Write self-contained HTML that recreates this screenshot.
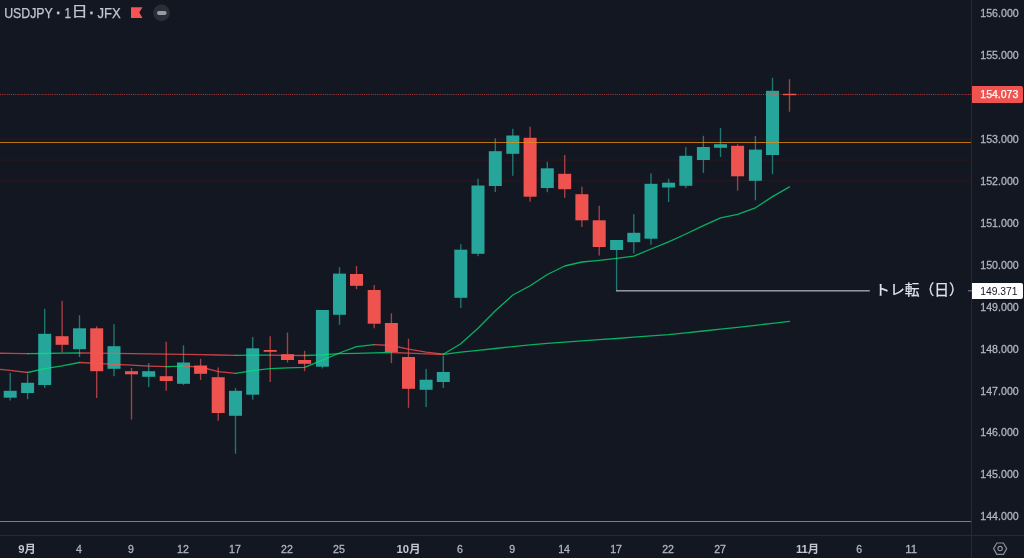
<!DOCTYPE html>
<html lang="ja">
<head>
<meta charset="utf-8">
<title>USDJPY 1日 JFX</title>
<style>
html,body{margin:0;padding:0;background:#131722;width:1024px;height:558px;overflow:hidden}
body{position:relative;font-family:"Liberation Sans","Noto Sans CJK JP",sans-serif}
</style>
</head>
<body>
<svg width="1024" height="558" viewBox="0 0 1024 558" style="display:block;position:absolute;left:0;top:0">
<rect x="0" y="0" width="1024" height="558" fill="#131722"/>
<rect x="0" y="138.5" width="971" height="1.7" fill="#24161f"/>
<rect x="0" y="159.2" width="971" height="1.7" fill="#24161f"/>
<rect x="0" y="180.0" width="971" height="1.7" fill="#24161f"/>
<g>
<rect x="9.52" y="372.8" width="1.36" height="27.7" fill="#26a69a" opacity="0.68"/>
<rect x="3.70" y="390.8" width="13" height="6.9" fill="#26a69a"/>
<rect x="26.92" y="374.2" width="1.36" height="25.0" fill="#26a69a" opacity="0.68"/>
<rect x="21.10" y="382.8" width="13" height="10.2" fill="#26a69a"/>
<rect x="44.02" y="308.8" width="1.36" height="79.2" fill="#26a69a" opacity="0.68"/>
<rect x="38.20" y="333.8" width="13" height="51.2" fill="#26a69a"/>
<rect x="61.42" y="300.8" width="1.36" height="51.7" fill="#ef5350" opacity="0.68"/>
<rect x="55.60" y="336.2" width="13" height="8.6" fill="#ef5350"/>
<rect x="78.82" y="315.3" width="1.36" height="41.7" fill="#26a69a" opacity="0.68"/>
<rect x="73.00" y="328.3" width="13" height="20.9" fill="#26a69a"/>
<rect x="96.02" y="326.3" width="1.36" height="71.7" fill="#ef5350" opacity="0.68"/>
<rect x="90.20" y="328.3" width="13" height="42.9" fill="#ef5350"/>
<rect x="113.32" y="324.2" width="1.36" height="52.0" fill="#26a69a" opacity="0.68"/>
<rect x="107.50" y="346.2" width="13" height="22.6" fill="#26a69a"/>
<rect x="130.82" y="368.0" width="1.36" height="51.5" fill="#ef5350" opacity="0.68"/>
<rect x="125.00" y="371.2" width="13" height="3.1" fill="#ef5350"/>
<rect x="148.02" y="363.0" width="1.36" height="24.0" fill="#26a69a" opacity="0.68"/>
<rect x="142.20" y="371.2" width="13" height="5.6" fill="#26a69a"/>
<rect x="165.52" y="341.8" width="1.36" height="49.0" fill="#ef5350" opacity="0.68"/>
<rect x="159.70" y="376.2" width="13" height="4.8" fill="#ef5350"/>
<rect x="182.82" y="345.3" width="1.36" height="39.7" fill="#26a69a" opacity="0.68"/>
<rect x="177.00" y="362.5" width="13" height="21.3" fill="#26a69a"/>
<rect x="199.92" y="358.8" width="1.36" height="21.2" fill="#ef5350" opacity="0.68"/>
<rect x="194.10" y="365.5" width="13" height="8.3" fill="#ef5350"/>
<rect x="217.52" y="367.5" width="1.36" height="53.3" fill="#ef5350" opacity="0.68"/>
<rect x="211.70" y="377.2" width="13" height="35.8" fill="#ef5350"/>
<rect x="234.82" y="388.0" width="1.36" height="65.7" fill="#26a69a" opacity="0.68"/>
<rect x="229.00" y="390.8" width="13" height="25.0" fill="#26a69a"/>
<rect x="252.02" y="337.0" width="1.36" height="62.7" fill="#26a69a" opacity="0.68"/>
<rect x="246.20" y="348.3" width="13" height="46.4" fill="#26a69a"/>
<rect x="269.52" y="336.2" width="1.36" height="45.8" fill="#ef5350" opacity="0.68"/>
<rect x="263.70" y="350.0" width="13" height="1.8" fill="#ef5350"/>
<rect x="286.82" y="332.5" width="1.36" height="30.0" fill="#ef5350" opacity="0.68"/>
<rect x="281.00" y="354.2" width="13" height="5.8" fill="#ef5350"/>
<rect x="303.92" y="350.8" width="1.36" height="20.4" fill="#ef5350" opacity="0.68"/>
<rect x="298.10" y="360.0" width="13" height="3.8" fill="#ef5350"/>
<rect x="321.72" y="310.0" width="1.36" height="58.4" fill="#26a69a" opacity="0.68"/>
<rect x="315.90" y="310.0" width="13" height="56.7" fill="#26a69a"/>
<rect x="338.82" y="267.2" width="1.36" height="57.5" fill="#26a69a" opacity="0.68"/>
<rect x="333.00" y="273.6" width="13" height="41.2" fill="#26a69a"/>
<rect x="355.82" y="266.0" width="1.36" height="23.2" fill="#ef5350" opacity="0.68"/>
<rect x="350.00" y="274.0" width="13" height="11.8" fill="#ef5350"/>
<rect x="373.52" y="285.0" width="1.36" height="43.3" fill="#ef5350" opacity="0.68"/>
<rect x="367.70" y="290.0" width="13" height="33.7" fill="#ef5350"/>
<rect x="390.72" y="313.3" width="1.36" height="49.7" fill="#ef5350" opacity="0.68"/>
<rect x="384.90" y="323.0" width="13" height="29.0" fill="#ef5350"/>
<rect x="407.82" y="338.7" width="1.36" height="69.1" fill="#ef5350" opacity="0.68"/>
<rect x="402.00" y="357.0" width="13" height="31.8" fill="#ef5350"/>
<rect x="425.42" y="368.8" width="1.36" height="38.2" fill="#26a69a" opacity="0.68"/>
<rect x="419.60" y="379.7" width="13" height="10.1" fill="#26a69a"/>
<rect x="442.62" y="355.8" width="1.36" height="32.2" fill="#26a69a" opacity="0.68"/>
<rect x="436.80" y="372.0" width="13" height="10.0" fill="#26a69a"/>
<rect x="460.12" y="244.2" width="1.36" height="63.8" fill="#26a69a" opacity="0.68"/>
<rect x="454.30" y="249.7" width="13" height="48.1" fill="#26a69a"/>
<rect x="477.32" y="178.7" width="1.36" height="77.5" fill="#26a69a" opacity="0.68"/>
<rect x="471.50" y="185.5" width="13" height="68.3" fill="#26a69a"/>
<rect x="494.62" y="138.3" width="1.36" height="53.7" fill="#26a69a" opacity="0.68"/>
<rect x="488.80" y="151.2" width="13" height="34.8" fill="#26a69a"/>
<rect x="512.12" y="128.7" width="1.36" height="47.1" fill="#26a69a" opacity="0.68"/>
<rect x="506.30" y="135.5" width="13" height="18.3" fill="#26a69a"/>
<rect x="529.42" y="126.7" width="1.36" height="75.0" fill="#ef5350" opacity="0.68"/>
<rect x="523.60" y="137.8" width="13" height="58.9" fill="#ef5350"/>
<rect x="546.62" y="161.7" width="1.36" height="30.5" fill="#26a69a" opacity="0.68"/>
<rect x="540.80" y="168.3" width="13" height="19.7" fill="#26a69a"/>
<rect x="564.02" y="155.0" width="1.36" height="42.8" fill="#ef5350" opacity="0.68"/>
<rect x="558.20" y="173.8" width="13" height="15.4" fill="#ef5350"/>
<rect x="581.22" y="186.7" width="1.36" height="40.3" fill="#ef5350" opacity="0.68"/>
<rect x="575.40" y="194.2" width="13" height="26.1" fill="#ef5350"/>
<rect x="598.52" y="205.8" width="1.36" height="49.7" fill="#ef5350" opacity="0.68"/>
<rect x="592.70" y="220.3" width="13" height="26.7" fill="#ef5350"/>
<rect x="615.92" y="240.0" width="1.36" height="50.8" fill="#26a69a" opacity="0.68"/>
<rect x="610.10" y="240.0" width="13" height="10.0" fill="#26a69a"/>
<rect x="633.12" y="214.2" width="1.36" height="39.1" fill="#26a69a" opacity="0.68"/>
<rect x="627.30" y="232.8" width="13" height="9.4" fill="#26a69a"/>
<rect x="650.32" y="173.3" width="1.36" height="71.4" fill="#26a69a" opacity="0.68"/>
<rect x="644.50" y="183.8" width="13" height="54.9" fill="#26a69a"/>
<rect x="667.92" y="178.7" width="1.36" height="23.3" fill="#26a69a" opacity="0.68"/>
<rect x="662.10" y="182.7" width="13" height="4.8" fill="#26a69a"/>
<rect x="685.12" y="147.0" width="1.36" height="41.0" fill="#26a69a" opacity="0.68"/>
<rect x="679.30" y="155.8" width="13" height="30.0" fill="#26a69a"/>
<rect x="702.72" y="135.8" width="1.36" height="37.1" fill="#26a69a" opacity="0.68"/>
<rect x="696.90" y="147.0" width="13" height="13.0" fill="#26a69a"/>
<rect x="719.82" y="127.9" width="1.36" height="29.1" fill="#26a69a" opacity="0.68"/>
<rect x="714.00" y="144.2" width="13" height="3.6" fill="#26a69a"/>
<rect x="736.92" y="144.2" width="1.36" height="46.4" fill="#ef5350" opacity="0.68"/>
<rect x="731.10" y="145.8" width="13" height="30.5" fill="#ef5350"/>
<rect x="754.72" y="136.0" width="1.36" height="64.3" fill="#26a69a" opacity="0.68"/>
<rect x="748.90" y="149.6" width="13" height="31.2" fill="#26a69a"/>
<rect x="771.82" y="77.8" width="1.36" height="96.4" fill="#26a69a" opacity="0.68"/>
<rect x="766.00" y="90.8" width="13" height="64.2" fill="#26a69a"/>
<rect x="788.82" y="79.2" width="1.36" height="32.5" fill="#ef5350" opacity="0.68"/>
<rect x="783.00" y="93.8" width="13" height="1.4" fill="#ef5350"/>
</g>
<line x1="0" y1="94.5" x2="971" y2="94.5" stroke="#ef5350" stroke-width="1" stroke-dasharray="1.09 1.09" opacity="0.62"/>
<polyline fill="none" stroke="rgba(255,82,82,0.75)" stroke-width="1.3" stroke-linejoin="round" stroke-linecap="round" points="-7.1,353.2 10.2,353.3 27.6,353.7"/>
<polyline fill="none" stroke="rgba(0,230,118,0.75)" stroke-width="1.3" stroke-linejoin="round" stroke-linecap="round" points="27.6,353.7 44.7,353.5 62.1,353.2 79.5,353.0"/>
<polyline fill="none" stroke="rgba(255,82,82,0.75)" stroke-width="1.3" stroke-linejoin="round" stroke-linecap="round" points="79.5,353.0 96.7,353.2 114.0,353.4 131.5,353.6 148.7,353.8 166.2,354.2 183.5,354.4 200.6,354.7 218.2,355.0 235.5,355.4"/>
<polyline fill="none" stroke="rgba(0,230,118,0.75)" stroke-width="1.3" stroke-linejoin="round" stroke-linecap="round" points="235.5,355.4 252.7,355.2 270.2,355.1"/>
<polyline fill="none" stroke="rgba(255,82,82,0.75)" stroke-width="1.3" stroke-linejoin="round" stroke-linecap="round" points="270.2,355.1 287.5,355.3 304.6,355.5"/>
<polyline fill="none" stroke="rgba(0,230,118,0.75)" stroke-width="1.3" stroke-linejoin="round" stroke-linecap="round" points="304.6,355.5 322.4,354.8 339.5,353.7 356.5,353.3 374.2,352.9 391.4,352.5"/>
<polyline fill="none" stroke="rgba(255,82,82,0.75)" stroke-width="1.3" stroke-linejoin="round" stroke-linecap="round" points="391.4,352.5 408.5,353.2 426.1,353.9 443.3,354.3"/>
<polyline fill="none" stroke="rgba(0,230,118,0.75)" stroke-width="1.3" stroke-linejoin="round" stroke-linecap="round" points="443.3,354.3 460.8,352.1 478.0,350.3 495.3,348.5 512.8,346.6 530.1,344.9 547.3,343.4 564.7,342.1 581.9,340.9 599.2,339.7 616.6,338.5 633.8,337.2 651.0,335.9 668.6,334.6 685.8,332.8 703.4,331.0 720.5,329.2 737.6,327.3 755.4,325.3 772.5,323.3 789.5,321.3"/>

<polyline fill="none" stroke="rgba(255,82,82,0.75)" stroke-width="1.3" stroke-linejoin="round" stroke-linecap="round" points="-7.1,368.8 10.2,370.4 27.6,372.5"/>
<polyline fill="none" stroke="rgba(0,230,118,0.75)" stroke-width="1.3" stroke-linejoin="round" stroke-linecap="round" points="27.6,372.5 44.7,368.6 62.1,365.8 79.5,362.5"/>
<polyline fill="none" stroke="rgba(255,82,82,0.75)" stroke-width="1.3" stroke-linejoin="round" stroke-linecap="round" points="79.5,362.5 96.7,363.4 114.0,364.3 131.5,365.2 148.7,366.1 166.2,366.7"/>
<polyline fill="none" stroke="rgba(0,230,118,0.75)" stroke-width="1.3" stroke-linejoin="round" stroke-linecap="round" points="166.2,366.7 183.5,366.2"/>
<polyline fill="none" stroke="rgba(255,82,82,0.75)" stroke-width="1.3" stroke-linejoin="round" stroke-linecap="round" points="183.5,366.2 200.6,367.0 218.2,371.6 235.5,373.3"/>
<polyline fill="none" stroke="rgba(0,230,118,0.75)" stroke-width="1.3" stroke-linejoin="round" stroke-linecap="round" points="235.5,373.3 252.7,370.6 270.2,368.6 287.5,367.9 304.6,367.3 322.4,360.2 339.5,353.0 356.5,346.7 374.2,344.7"/>
<polyline fill="none" stroke="rgba(255,82,82,0.75)" stroke-width="1.3" stroke-linejoin="round" stroke-linecap="round" points="374.2,344.7 391.4,345.5 408.5,349.2 426.1,352.2 443.3,354.2"/>
<polyline fill="none" stroke="rgba(0,230,118,0.75)" stroke-width="1.3" stroke-linejoin="round" stroke-linecap="round" points="443.3,354.2 460.8,343.8 478.0,328.3 495.3,310.8 512.8,295.0 530.1,285.8 547.3,274.5 564.7,266.0 581.9,262.0 599.2,260.3 616.6,258.3 633.8,256.2 651.0,249.0 668.6,241.9 685.8,234.0 703.4,225.6 720.5,217.9 737.6,214.4 755.4,207.8 772.5,196.6 789.5,186.9"/>

<rect x="0" y="142" width="971" height="1" fill="rgba(231,140,15,0.8)" shape-rendering="crispEdges"/>
<rect x="0" y="521" width="971" height="1" fill="rgba(231,140,15,0.8)" shape-rendering="crispEdges"/>
<rect x="616" y="290.1" width="253.8" height="1.4" fill="#a2a4ac"/>
<text x="875.1" y="295.4" font-size="14.4" fill="#dfe2ea" stroke="#dfe2ea" stroke-width="0.25" textLength="88.8" lengthAdjust="spacingAndGlyphs" font-family="'Liberation Sans', 'Noto Sans CJK JP', sans-serif">トレ転（日）</text>
<rect x="971" y="0" width="1" height="558" fill="#262a37" shape-rendering="crispEdges"/>
<rect x="0" y="535" width="1024" height="1" fill="#262a37" shape-rendering="crispEdges"/>
<text x="980.3" y="17.2" font-size="11.3" fill="#b2b5be" stroke="#b2b5be" stroke-width="0.3" textLength="38.4" lengthAdjust="spacingAndGlyphs" font-family="'Liberation Sans', 'Noto Sans CJK JP', sans-serif">156.000</text>
<text x="980.3" y="59.1" font-size="11.3" fill="#b2b5be" stroke="#b2b5be" stroke-width="0.3" textLength="38.4" lengthAdjust="spacingAndGlyphs" font-family="'Liberation Sans', 'Noto Sans CJK JP', sans-serif">155.000</text>
<text x="980.3" y="143.0" font-size="11.3" fill="#b2b5be" stroke="#b2b5be" stroke-width="0.3" textLength="38.4" lengthAdjust="spacingAndGlyphs" font-family="'Liberation Sans', 'Noto Sans CJK JP', sans-serif">153.000</text>
<text x="980.3" y="185.0" font-size="11.3" fill="#b2b5be" stroke="#b2b5be" stroke-width="0.3" textLength="38.4" lengthAdjust="spacingAndGlyphs" font-family="'Liberation Sans', 'Noto Sans CJK JP', sans-serif">152.000</text>
<text x="980.3" y="226.9" font-size="11.3" fill="#b2b5be" stroke="#b2b5be" stroke-width="0.3" textLength="38.4" lengthAdjust="spacingAndGlyphs" font-family="'Liberation Sans', 'Noto Sans CJK JP', sans-serif">151.000</text>
<text x="980.3" y="268.8" font-size="11.3" fill="#b2b5be" stroke="#b2b5be" stroke-width="0.3" textLength="38.4" lengthAdjust="spacingAndGlyphs" font-family="'Liberation Sans', 'Noto Sans CJK JP', sans-serif">150.000</text>
<text x="980.3" y="310.7" font-size="11.3" fill="#b2b5be" stroke="#b2b5be" stroke-width="0.3" textLength="38.4" lengthAdjust="spacingAndGlyphs" font-family="'Liberation Sans', 'Noto Sans CJK JP', sans-serif">149.000</text>
<text x="980.3" y="352.7" font-size="11.3" fill="#b2b5be" stroke="#b2b5be" stroke-width="0.3" textLength="38.4" lengthAdjust="spacingAndGlyphs" font-family="'Liberation Sans', 'Noto Sans CJK JP', sans-serif">148.000</text>
<text x="980.3" y="394.6" font-size="11.3" fill="#b2b5be" stroke="#b2b5be" stroke-width="0.3" textLength="38.4" lengthAdjust="spacingAndGlyphs" font-family="'Liberation Sans', 'Noto Sans CJK JP', sans-serif">147.000</text>
<text x="980.3" y="436.4" font-size="11.3" fill="#b2b5be" stroke="#b2b5be" stroke-width="0.3" textLength="38.4" lengthAdjust="spacingAndGlyphs" font-family="'Liberation Sans', 'Noto Sans CJK JP', sans-serif">146.000</text>
<text x="980.3" y="478.4" font-size="11.3" fill="#b2b5be" stroke="#b2b5be" stroke-width="0.3" textLength="38.4" lengthAdjust="spacingAndGlyphs" font-family="'Liberation Sans', 'Noto Sans CJK JP', sans-serif">145.000</text>
<text x="980.3" y="520.3" font-size="11.3" fill="#b2b5be" stroke="#b2b5be" stroke-width="0.3" textLength="38.4" lengthAdjust="spacingAndGlyphs" font-family="'Liberation Sans', 'Noto Sans CJK JP', sans-serif">144.000</text>
<path d="M972 86h49a2 2 0 0 1 2 2v13a2 2 0 0 1-2 2h-49z" fill="#ef5350"/>
<text x="980.3" y="98.3" font-size="11.3" fill="#ffffff" stroke="#ffffff" stroke-width="0.25" textLength="38" lengthAdjust="spacingAndGlyphs" font-family="'Liberation Sans', 'Noto Sans CJK JP', sans-serif">154.073</text>
<rect x="968" y="290.3" width="4" height="1" fill="#8a8d96"/>
<path d="M972 283h49a2 2 0 0 1 2 2v12a2 2 0 0 1-2 2h-49z" fill="#ffffff"/>
<text x="980.3" y="295.1" font-size="11.3" fill="#131722" textLength="37.2" lengthAdjust="spacingAndGlyphs" font-family="'Liberation Sans', 'Noto Sans CJK JP', sans-serif">149.371</text>
<text x="27.0" y="552.6" font-size="11.3" fill="#c4c7cf" text-anchor="middle" font-weight="bold" font-family="'Liberation Sans', 'Noto Sans CJK JP', sans-serif">9月</text>
<text x="78.9" y="552.6" font-size="11.3" fill="#b2b5be" stroke="#b2b5be" stroke-width="0.3" text-anchor="middle" textLength="5.9" lengthAdjust="spacingAndGlyphs" font-family="'Liberation Sans', 'Noto Sans CJK JP', sans-serif">4</text>
<text x="130.9" y="552.6" font-size="11.3" fill="#b2b5be" stroke="#b2b5be" stroke-width="0.3" text-anchor="middle" textLength="5.9" lengthAdjust="spacingAndGlyphs" font-family="'Liberation Sans', 'Noto Sans CJK JP', sans-serif">9</text>
<text x="182.9" y="552.6" font-size="11.3" fill="#b2b5be" stroke="#b2b5be" stroke-width="0.3" text-anchor="middle" textLength="11.8" lengthAdjust="spacingAndGlyphs" font-family="'Liberation Sans', 'Noto Sans CJK JP', sans-serif">12</text>
<text x="234.9" y="552.6" font-size="11.3" fill="#b2b5be" stroke="#b2b5be" stroke-width="0.3" text-anchor="middle" textLength="11.8" lengthAdjust="spacingAndGlyphs" font-family="'Liberation Sans', 'Noto Sans CJK JP', sans-serif">17</text>
<text x="286.9" y="552.6" font-size="11.3" fill="#b2b5be" stroke="#b2b5be" stroke-width="0.3" text-anchor="middle" textLength="11.8" lengthAdjust="spacingAndGlyphs" font-family="'Liberation Sans', 'Noto Sans CJK JP', sans-serif">22</text>
<text x="338.9" y="552.6" font-size="11.3" fill="#b2b5be" stroke="#b2b5be" stroke-width="0.3" text-anchor="middle" textLength="11.8" lengthAdjust="spacingAndGlyphs" font-family="'Liberation Sans', 'Noto Sans CJK JP', sans-serif">25</text>
<text x="408.5" y="552.6" font-size="11.3" fill="#c4c7cf" text-anchor="middle" font-weight="bold" font-family="'Liberation Sans', 'Noto Sans CJK JP', sans-serif">10月</text>
<text x="460.0" y="552.6" font-size="11.3" fill="#b2b5be" stroke="#b2b5be" stroke-width="0.3" text-anchor="middle" textLength="5.9" lengthAdjust="spacingAndGlyphs" font-family="'Liberation Sans', 'Noto Sans CJK JP', sans-serif">6</text>
<text x="512.1" y="552.6" font-size="11.3" fill="#b2b5be" stroke="#b2b5be" stroke-width="0.3" text-anchor="middle" textLength="5.9" lengthAdjust="spacingAndGlyphs" font-family="'Liberation Sans', 'Noto Sans CJK JP', sans-serif">9</text>
<text x="564.1" y="552.6" font-size="11.3" fill="#b2b5be" stroke="#b2b5be" stroke-width="0.3" text-anchor="middle" textLength="11.8" lengthAdjust="spacingAndGlyphs" font-family="'Liberation Sans', 'Noto Sans CJK JP', sans-serif">14</text>
<text x="616.1" y="552.6" font-size="11.3" fill="#b2b5be" stroke="#b2b5be" stroke-width="0.3" text-anchor="middle" textLength="11.8" lengthAdjust="spacingAndGlyphs" font-family="'Liberation Sans', 'Noto Sans CJK JP', sans-serif">17</text>
<text x="668.1" y="552.6" font-size="11.3" fill="#b2b5be" stroke="#b2b5be" stroke-width="0.3" text-anchor="middle" textLength="11.8" lengthAdjust="spacingAndGlyphs" font-family="'Liberation Sans', 'Noto Sans CJK JP', sans-serif">22</text>
<text x="720.1" y="552.6" font-size="11.3" fill="#b2b5be" stroke="#b2b5be" stroke-width="0.3" text-anchor="middle" textLength="11.8" lengthAdjust="spacingAndGlyphs" font-family="'Liberation Sans', 'Noto Sans CJK JP', sans-serif">27</text>
<text x="807.5" y="552.6" font-size="11.3" fill="#c4c7cf" text-anchor="middle" font-weight="bold" font-family="'Liberation Sans', 'Noto Sans CJK JP', sans-serif">11月</text>
<text x="859.1" y="552.6" font-size="11.3" fill="#b2b5be" stroke="#b2b5be" stroke-width="0.3" text-anchor="middle" textLength="5.9" lengthAdjust="spacingAndGlyphs" font-family="'Liberation Sans', 'Noto Sans CJK JP', sans-serif">6</text>
<text x="911.1" y="552.6" font-size="11.3" fill="#b2b5be" stroke="#b2b5be" stroke-width="0.3" text-anchor="middle" textLength="11.8" lengthAdjust="spacingAndGlyphs" font-family="'Liberation Sans', 'Noto Sans CJK JP', sans-serif">11</text>
<g fill="none" stroke="#8f929b" stroke-width="1.1"><path stroke-linejoin="round" d="M993.6 548.65l3.3-5.7h6.5l3.3 5.7-3.3 5.7h-6.5z"/><circle cx="1000.1" cy="548.6" r="2.2"/></g>
<g fill="#c3c6ce" stroke="#c3c6ce" stroke-width="0.25" font-size="14" font-family="'Liberation Sans', 'Noto Sans CJK JP', sans-serif">
<text x="4.2" y="18" textLength="48.6" lengthAdjust="spacingAndGlyphs">USDJPY</text>
<text x="64.5" y="18" textLength="6.4" lengthAdjust="spacingAndGlyphs">1</text>
<text x="71.4" y="16.3" font-size="13.4" textLength="16.2" lengthAdjust="spacingAndGlyphs">日</text>
<text x="97.6" y="18" textLength="23.2" lengthAdjust="spacingAndGlyphs">JFX</text>
<text x="58.5" y="18" text-anchor="middle" font-weight="bold" font-size="15.5">·</text>
<text x="91.9" y="18" text-anchor="middle" font-weight="bold" font-size="15.5">·</text>
</g>
<path d="M131 7.2h11.5l-3.2 5.4 3.2 5.4h-11.5z" fill="#f85252"/>
<circle cx="161.5" cy="12.9" r="8.3" fill="#2a2e39"/>
<rect x="157" y="11" width="9.6" height="4" rx="2" fill="#9a9a9f"/>
</svg>
</body>
</html>
